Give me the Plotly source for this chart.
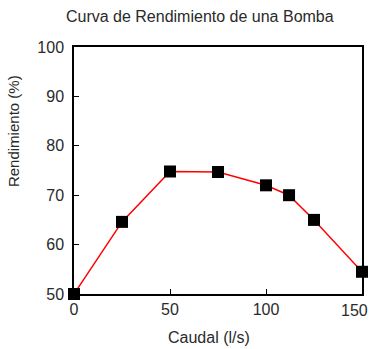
import plotly.graph_objects as go

# Pump efficiency curve data
caudal = [0, 25, 50, 75, 100, 112, 125, 150]          # l/s
rendimiento = [50, 64.6, 74.8, 74.7, 72, 70, 65, 54.5]  # %
x_ticks = [0, 50, 100, 150]
y_ticks = [50, 60, 70, 80, 90, 100]

FONT = "Liberation Sans, Arial"
TEXT_COLOR = "#2a2a2a"

fig = go.Figure(
    go.Scatter(
        x=caudal,
        y=rendimiento,
        mode="lines+markers",
        line=dict(color="#ff0000", width=1.5),
        marker=dict(symbol="square", size=12, color="black"),
        cliponaxis=False,
    )
)

axis_common = dict(
    showgrid=False,
    zeroline=False,
    showline=True,
    linecolor="black",
    linewidth=1.5,
    mirror=True,
    ticks="inside",
    ticklen=5,
    tickcolor="black",
    automargin=False,
    tickfont=dict(family=FONT, size=16, color=TEXT_COLOR),
)

# last x label is placed separately so it stays inside the page
fig.update_xaxes(
    range=[0, 150],
    tickvals=x_ticks,
    ticktext=[str(v) for v in x_ticks[:-1]] + [""],
    **axis_common,
)
fig.update_yaxes(
    range=[50, 100],
    tickvals=y_ticks,
    ticklabelstandoff=5,
    **axis_common,
)

fig.add_annotation(
    x=x_ticks[-1], y=0, xref="x", yref="paper",
    text=str(x_ticks[-1]), showarrow=False,
    xanchor="center", yanchor="top", xshift=-8, yshift=-6,
    font=dict(family=FONT, size=16, color=TEXT_COLOR),
)
fig.add_annotation(
    x=0.469, y=-0.175, xref="paper", yref="paper",
    text="Caudal (l/s)", showarrow=False,
    xanchor="center", yanchor="middle",
    font=dict(family=FONT, size=16, color=TEXT_COLOR),
)
fig.add_annotation(
    x=-0.208, y=0.66, xref="paper", yref="paper",
    text="Rendimiento (%)", showarrow=False, textangle=-90,
    xanchor="center", yanchor="middle",
    font=dict(family=FONT, size=15, color=TEXT_COLOR),
)

fig.update_layout(
    width=370,
    height=349,
    margin=dict(l=74, r=8, t=47, b=55),
    paper_bgcolor="white",
    plot_bgcolor="white",
    showlegend=False,
    title=dict(
        text="Curva de Rendimiento de una Bomba",
        font=dict(family=FONT, size=16, color=TEXT_COLOR),
        x=0.54,
        xanchor="center",
        y=0.952,
        yanchor="middle",
    ),
)

fig.write_html("out.html")
